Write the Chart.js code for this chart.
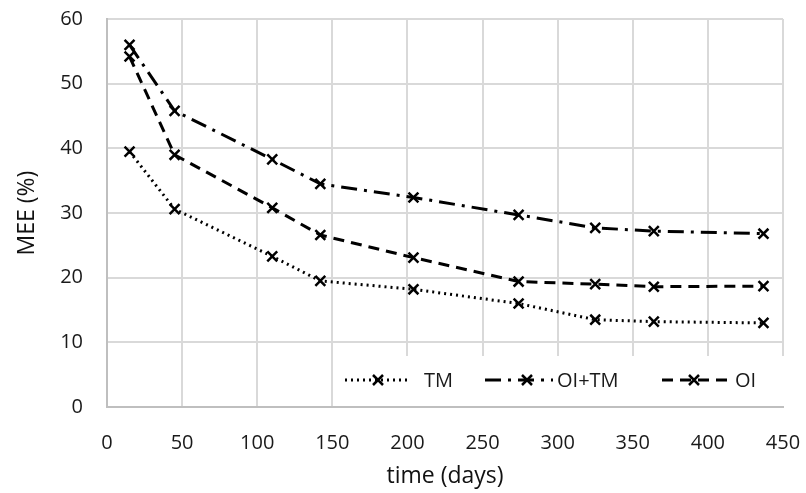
<!DOCTYPE html>
<html>
<head>
<meta charset="utf-8">
<script src="https://cdn.jsdelivr.net/npm/chart.js@4.4.1/dist/chart.umd.min.js"></script>
<style>
  html, body { margin: 0; padding: 0; background: #fff; }
  #wrap { width: 806px; height: 493px; position: relative; }
</style>
</head>
<body>
<div id="wrap"><canvas id="meeChart"></canvas></div>
<script>
// 数据
const days = [15, 45, 110, 142, 204, 274, 325, 364, 437];
const tmValues = [39.5, 30.6, 23.3, 19.5, 18.2, 16.0, 13.5, 13.2, 13.0];
const oiTmValues = [56.0, 45.8, 38.3, 34.5, 32.4, 29.7, 27.7, 27.2, 26.8];
const oiValues = [54.2, 39.0, 30.8, 26.6, 23.1, 19.4, 19.0, 18.6, 18.7];
const seriesNames = ['TM', 'OI+TM', 'OI'];

const FONT = '"Open Sans", "Liberation Sans", sans-serif';
const dashes = [[2, 4], [16, 7, 3, 7], [11, 7]];

function toPoints(ys) {
    return days.map((d, i) => ({ x: d, y: ys[i] }));
}

function makeSet(label, ys, dash) {
    return {
        label: label,
        data: toPoints(ys),
        borderColor: '#000',
        backgroundColor: '#000',
        borderWidth: 3,
        borderDash: dash,
        pointStyle: 'crossRot',
        pointRadius: 7,
        pointBorderWidth: 2.5,
        pointBorderColor: '#000',
        tension: 0,
        fill: false
    };
}

// 固定坐标轴尺寸，去掉刻度文字溢出的额外边距
function fixScale(size) {
    return function(s) {
        if (s.isHorizontal()) s.height = size; else s.width = size;
        s.paddingTop = 0;
        s.paddingBottom = 0;
        s.paddingLeft = 0;
        s.paddingRight = 0;
    };
}

// 图例（画在绘图区内右下角）
const boxLegend = {
    id: 'boxLegend',
    afterDraw(chart) {
        const c = chart.ctx;
        const x0 = 336, y0 = 356, x1 = 784, y1 = 406;
        c.save();
        c.fillStyle = '#fff';
        c.fillRect(x0, y0, x1 - x0, y1 - y0);
        const cy = 380;
        const items = [
            { sx: 345, ex: 410, mx: 378, tx: 424 },
            { sx: 485, ex: 553, mx: 527, tx: 557 },
            { sx: 662, ex: 730, mx: 694, tx: 735 }
        ];
        items.forEach((it, i) => {
            c.strokeStyle = '#000';
            c.lineWidth = 3;
            c.setLineDash(dashes[i]);
            c.beginPath();
            c.moveTo(it.sx, cy);
            c.lineTo(it.ex, cy);
            c.stroke();
            c.setLineDash([]);
            c.lineWidth = 2.5;
            c.beginPath();
            c.moveTo(it.mx - 5, cy - 5); c.lineTo(it.mx + 5, cy + 5);
            c.moveTo(it.mx - 5, cy + 5); c.lineTo(it.mx + 5, cy - 5);
            c.stroke();
            c.fillStyle = '#1a1a1a';
            c.font = '20px ' + FONT;
            c.textBaseline = 'middle';
            c.fillText(seriesNames[i], it.tx, cy + 1);
        });
        c.restore();
    }
};

new Chart(document.getElementById('meeChart'), {
    type: 'line',
    data: {
        datasets: [
            makeSet(seriesNames[0], tmValues, dashes[0]),
            makeSet(seriesNames[1], oiTmValues, dashes[1]),
            makeSet(seriesNames[2], oiValues, dashes[2])
        ]
    },
    options: {
        responsive: true,
        maintainAspectRatio: false,
        animation: false,
        layout: { padding: { left: 0, right: 23, top: 19, bottom: 0 } },
        plugins: {
            legend: { display: false },
            tooltip: { enabled: false }
        },
        scales: {
            x: {
                type: 'linear',
                min: 0,
                max: 450,
                ticks: { stepSize: 50, color: '#1a1a1a', font: { family: FONT, size: 20 }, padding: 24 },
                grid: { color: '#d9d9d9', lineWidth: 2, drawTicks: false },
                border: { color: '#bfbfbf', width: 2 },
                title: { display: true, text: 'time (days)', color: '#111', font: { family: FONT, size: 23 }, padding: { top: 0, bottom: 3 } },
                afterFit: fixScale(86)
            },
            y: {
                min: 0,
                max: 60,
                ticks: { stepSize: 10, color: '#1a1a1a', font: { family: FONT, size: 20 }, padding: 24 },
                grid: { color: '#d9d9d9', lineWidth: 2, drawTicks: false },
                border: { color: '#bfbfbf', width: 2 },
                title: { display: true, text: 'MEE (%)', color: '#111', font: { family: FONT, size: 23 }, padding: { top: 14, bottom: 0 } },
                afterFit: fixScale(107)
            }
        }
    },
    plugins: [boxLegend]
});
</script>
</body>
</html>
